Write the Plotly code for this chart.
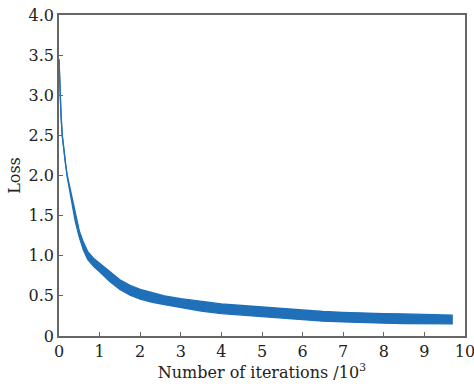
import plotly.graph_objects as go

# Iterations (x10^3) and loss band
iters = [0, 0.02, 0.05, 0.08, 0.12, 0.16, 0.2, 0.25, 0.3, 0.35, 0.4, 0.5, 0.6, 0.71, 0.85, 1.0,
         1.25, 1.5, 1.75, 2.0, 2.3, 2.6, 3.0, 3.5, 4.0, 4.5, 5.0, 5.5, 6.0, 6.5, 7.0, 7.5,
         8.0, 8.5, 9.0, 9.3, 9.7]
loss_upper = [3.45, 3.1, 2.75, 2.5, 2.3, 2.14, 2.01, 1.89, 1.78, 1.64, 1.51, 1.31, 1.17, 1.05, 0.97, 0.91,
              0.80, 0.70, 0.63, 0.58, 0.54, 0.50, 0.465, 0.43, 0.40, 0.38, 0.36, 0.34, 0.32, 0.305, 0.295, 0.285,
              0.28, 0.275, 0.27, 0.27, 0.26]
loss_lower = [3.45, 3.1, 2.75, 2.5, 2.3, 2.12, 1.99, 1.85, 1.72, 1.56, 1.43, 1.23, 1.07, 0.95, 0.87, 0.80,
              0.68, 0.58, 0.51, 0.46, 0.42, 0.39, 0.355, 0.31, 0.28, 0.26, 0.24, 0.22, 0.20, 0.185, 0.175, 0.165,
              0.16, 0.155, 0.15, 0.15, 0.15]

x_ticks = [0, 1, 2, 3, 4, 5, 6, 7, 8, 9, 10]
y_ticks = [0, 0.5, 1.0, 1.5, 2.0, 2.5, 3.0, 3.5, 4.0]
y_labels = ["0", "0.5", "1.0", "1.5", "2.0", "2.5", "3.0", "3.5", "4.0"]

blue = "#1f6fb9"
font = dict(family="DejaVu Serif", size=16, color="#222")

fig = go.Figure()
fig.add_trace(go.Scatter(x=iters, y=loss_lower, mode="lines",
                         line=dict(color=blue, width=1.3), showlegend=False, hoverinfo="skip"))
fig.add_trace(go.Scatter(x=iters, y=loss_upper, mode="lines", fill="tonexty",
                         fillcolor=blue, line=dict(color=blue, width=1.3), showlegend=False))

axis_common = dict(showline=True, linecolor="#666", linewidth=1.5, mirror=True,
                   ticks="inside", ticklen=4, tickcolor="#666", tickwidth=1.2,
                   showgrid=False, zeroline=False, tickfont=font, automargin=False,
                   ticklabeloverflow="allow")

fig.update_xaxes(range=[0, 10], tickvals=x_ticks, ticktext=[str(v) for v in x_ticks],
                 title=dict(text="Number of iterations /10<sup>3</sup>", font=font, standoff=0),
                 **axis_common)
fig.update_yaxes(range=[0, 4], tickvals=y_ticks, ticktext=y_labels,
                 title=dict(text="Loss", font=font, standoff=4),
                 **axis_common)

fig.update_layout(width=474, height=386, margin=dict(l=59, r=9, t=15, b=50),
                  plot_bgcolor="white", paper_bgcolor="white", font=font)

fig.write_html("out.html", config={"displayModeBar": False},
               post_script="document.body.style.margin='0';document.body.style.overflow='hidden';")
